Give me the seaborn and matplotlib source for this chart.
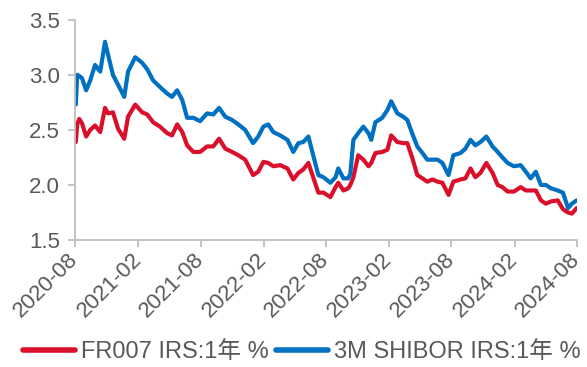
import matplotlib
matplotlib.use("Agg")
import matplotlib.pyplot as plt
import seaborn as sns
import pandas as pd

dates = ["2020-08-03", "2020-08-07", "2020-08-13", "2020-08-21", "2020-09-02", "2020-09-14",
         "2020-09-28", "2020-10-13", "2020-10-27", "2020-11-05", "2020-11-19", "2020-12-04",
         "2020-12-22", "2021-01-02", "2021-01-23", "2021-02-12", "2021-02-27", "2021-03-16",
         "2021-04-05", "2021-04-26", "2021-05-10", "2021-05-25", "2021-06-09", "2021-06-23",
         "2021-07-11", "2021-07-31", "2021-08-20", "2021-09-07", "2021-09-24", "2021-10-12",
         "2021-11-01", "2021-11-19", "2021-12-09", "2022-01-01", "2022-01-16", "2022-01-31",
         "2022-02-14", "2022-03-01", "2022-03-21", "2022-04-11", "2022-04-28", "2022-05-13",
         "2022-05-27", "2022-06-11", "2022-06-25", "2022-07-10", "2022-07-25", "2022-08-14",
         "2022-08-29", "2022-09-06", "2022-09-21", "2022-10-05", "2022-10-11", "2022-10-20",
         "2022-11-03", "2022-11-18", "2022-12-03", "2022-12-11", "2022-12-23", "2023-01-12",
         "2023-01-27", "2023-02-07", "2023-02-25", "2023-03-14", "2023-03-26", "2023-04-09",
         "2023-04-24", "2023-05-09", "2023-05-23", "2023-06-07", "2023-06-22", "2023-07-06",
         "2023-07-24", "2023-08-07", "2023-08-28", "2023-09-11", "2023-09-26", "2023-10-10",
         "2023-10-25", "2023-11-11", "2023-11-29", "2023-12-14", "2023-12-28", "2024-01-12",
         "2024-01-30", "2024-02-19", "2024-03-05", "2024-03-19", "2024-04-03", "2024-04-18",
         "2024-05-02", "2024-05-17", "2024-06-06", "2024-06-21", "2024-07-06", "2024-07-17",
         "2024-07-31"]

shibor = [2.73, 3.00, 2.99, 2.97, 2.86, 2.95, 3.09, 3.03, 3.30, 3.18, 3.00, 2.91,
          2.80, 3.03, 3.16, 3.11, 3.05, 2.95, 2.89, 2.83, 2.80, 2.86, 2.77, 2.61,
          2.61, 2.58, 2.65, 2.64, 2.70, 2.62, 2.59, 2.55, 2.50, 2.38, 2.44, 2.53,
          2.55, 2.48, 2.45, 2.41, 2.30, 2.38, 2.39, 2.44, 2.27, 2.09, 2.07, 2.02,
          2.07, 2.15, 2.06, 2.06, 2.10, 2.41, 2.47, 2.53, 2.47, 2.41, 2.57, 2.61,
          2.68, 2.76, 2.65, 2.62, 2.59, 2.47, 2.35, 2.29, 2.23, 2.23, 2.23, 2.20,
          2.09, 2.27, 2.29, 2.33, 2.41, 2.36, 2.39, 2.44, 2.35, 2.30, 2.25, 2.20,
          2.17, 2.18, 2.12, 2.06, 2.12, 2.00, 2.00, 1.97, 1.95, 1.93, 1.79, 1.83,
          1.86]

fr007 = [2.39, 2.55, 2.60, 2.56, 2.44, 2.50, 2.54, 2.48, 2.70, 2.65, 2.66, 2.51,
         2.42, 2.62, 2.73, 2.66, 2.64, 2.57, 2.53, 2.47, 2.45, 2.55, 2.48, 2.36,
         2.30, 2.30, 2.35, 2.35, 2.42, 2.33, 2.30, 2.27, 2.23, 2.09, 2.12, 2.21,
         2.20, 2.17, 2.18, 2.15, 2.05, 2.11, 2.14, 2.20, 2.07, 1.93, 1.93, 1.89,
         1.98, 2.02, 1.95, 1.97, 2.00, 2.07, 2.27, 2.23, 2.17, 2.20, 2.29, 2.30,
         2.32, 2.45, 2.39, 2.38, 2.38, 2.25, 2.09, 2.06, 2.03, 2.05, 2.03, 2.02,
         1.91, 2.03, 2.05, 2.06, 2.15, 2.07, 2.11, 2.20, 2.11, 2.00, 1.98, 1.94,
         1.94, 1.98, 1.95, 1.95, 1.95, 1.86, 1.83, 1.85, 1.86, 1.78, 1.75, 1.74,
         1.79]

series_names = ["FR007 IRS:1年 %", "3M SHIBOR IRS:1年 %"]
colors = ["#DA0F2B", "#0070C0"]
xtick_labels = ["2020-08", "2021-02", "2021-08", "2022-02", "2022-08",
                "2023-02", "2023-08", "2024-02", "2024-08"]
yticks = [1.5, 2.0, 2.5, 3.0, 3.5]

df = pd.DataFrame({
    "date": pd.to_datetime(dates * 2),
    "value": fr007 + shibor,
    "series": [series_names[0]] * len(dates) + [series_names[1]] * len(dates),
})

sns.set_style("white")
plt.rcParams["font.family"] = ["Liberation Sans", "Noto Sans CJK SC", "DejaVu Sans"]

fig = plt.figure(figsize=(5.87, 3.67), dpi=100)
ax = fig.add_axes([0.128, 0.346, 0.855, 0.6])

sns.lineplot(data=df, x="date", y="value", hue="series", hue_order=series_names,
             palette=colors, linewidth=3.0, ax=ax, legend=True)

ax.set_xlim(pd.Timestamp("2020-08-01"), pd.Timestamp("2024-08-01"))
ax.set_ylim(1.5, 3.5)
ax.set_yticks(yticks)
ax.set_yticklabels([f"{v:.1f}" for v in yticks])
ax.set_xticks(pd.to_datetime([s + "-01" for s in xtick_labels]))
ax.set_xticklabels(xtick_labels, rotation=45, ha="right", va="center",
                   rotation_mode="anchor")
ax.set_xlabel("")
ax.set_ylabel("")

for side in ["top", "right"]:
    ax.spines[side].set_visible(False)
for side in ["left", "bottom"]:
    ax.spines[side].set_color("#BFBFBF")
    ax.spines[side].set_linewidth(1.3)

ax.tick_params(axis="x", which="both", bottom=True, length=5, width=1.3,
               color="#BFBFBF", labelsize=16, labelcolor="#595959", pad=7)
ax.tick_params(axis="y", which="both", left=True, length=5, width=1.3,
               color="#BFBFBF", labelsize=16, labelcolor="#595959", pad=6)
ax.grid(False)

handles, labels = ax.get_legend_handles_labels()
ax.legend_.remove()
leg = fig.legend(handles, labels, loc="center", bbox_to_anchor=(0.514, 0.04),
                 ncol=2, frameon=False, fontsize=17, handlelength=2.2,
                 handletextpad=0.25, columnspacing=0.3, labelcolor="#595959",
                 borderpad=0.0)
for h in leg.get_lines():
    h.set_linewidth(4.0)

fig.savefig("out.png", dpi=100)
